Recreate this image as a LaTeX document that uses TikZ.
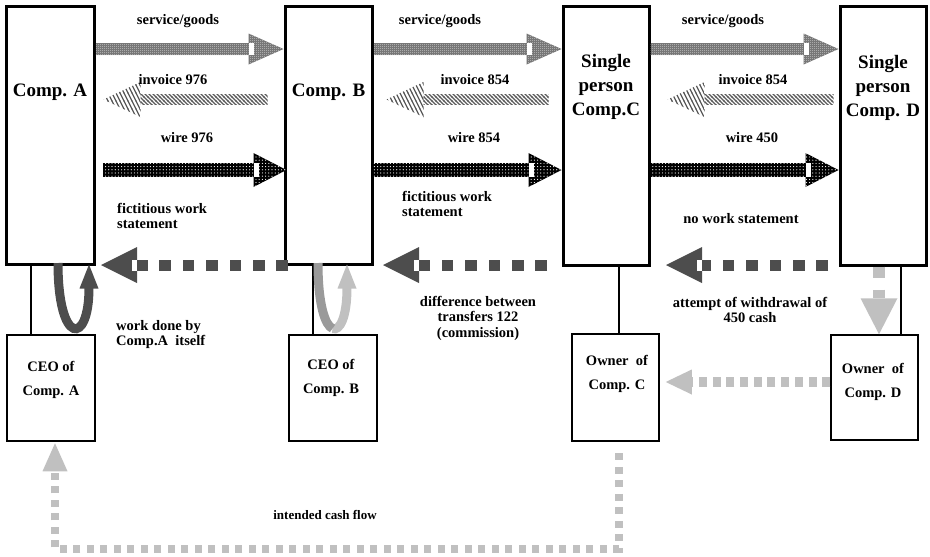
\documentclass[tikz,border=0pt]{standalone}
\usepackage{fontspec}
\setmainfont{Liberation Serif}
\usetikzlibrary{patterns,calc}

% diagonal hatching for the invoice arrows (shaft and steeper head)
\pgfdeclarepatternformonly{invoice hatch}{\pgfqpoint{-1pt}{-1pt}}{\pgfqpoint{5pt}{5pt}}{\pgfqpoint{4pt}{4pt}}{%
  \pgfsetlinewidth{1.3pt}%
  \pgfpathmoveto{\pgfqpoint{-0.3pt}{4.3pt}}%
  \pgfpathlineto{\pgfqpoint{4.3pt}{-0.3pt}}%
  \pgfusepath{stroke}}
\pgfdeclarepatternformonly{invoice hatch steep}{\pgfqpoint{-1pt}{-1pt}}{\pgfqpoint{5pt}{9pt}}{\pgfqpoint{4pt}{8pt}}{%
  \pgfsetlinewidth{1.3pt}%
  \pgfpathmoveto{\pgfqpoint{-0.15pt}{8.3pt}}%
  \pgfpathlineto{\pgfqpoint{4.15pt}{-0.3pt}}%
  \pgfusepath{stroke}}
% white dots on the wire arrows
\pgfdeclarepatternformonly{wire dots}{\pgfqpoint{-1pt}{-1pt}}{\pgfqpoint{1pt}{1pt}}{\pgfqpoint{3.2pt}{3.2pt}}{%
  \pgfpathcircle{\pgfqpoint{0pt}{0pt}}{.6pt}%
  \pgfusepath{fill}}
% fine checker on the goods arrows
\pgfdeclarepatternformonly{goods checker}{\pgfqpoint{0pt}{0pt}}{\pgfqpoint{2pt}{2pt}}{\pgfqpoint{2pt}{2pt}}{%
  \pgfpathrectangle{\pgfqpoint{0pt}{0pt}}{\pgfqpoint{1pt}{1pt}}%
  \pgfpathrectangle{\pgfqpoint{1pt}{1pt}}{\pgfqpoint{1pt}{1pt}}%
  \pgfusepath{fill}}

\definecolor{darkflow}{HTML}{4D4D4D}
\definecolor{lightflow}{HTML}{C0C0C0}
\definecolor{midflow}{HTML}{9A9A9A}

% pieces of a horizontal block arrow going from a tail coordinate to a tip coordinate
\newcommand\arrowshaft[5]{% style, tail, tip, half thickness, head length
  \path[#1] let \p1=(#2), \p2=(#3), \n1={(\x2>\x1)*2-1} in
    (\x1,{\y1+#4pt}) rectangle ({\x2-(\n1)*(#5pt)},{\y1-#4pt});}
\newcommand\arrowdashes[4]{% style, tail, tip, head length
  \path[#1] let \p1=(#2), \p2=(#3), \n1={(\x2>\x1)*2-1} in
    (\x1,\y1) -- ({\x2-(\n1)*(#4pt)},\y1);}
\newcommand\arrowhead[5]{% style, tail, tip, half width, head length
  \path[#1] let \p1=(#2), \p2=(#3), \n1={(\x2>\x1)*2-1} in
    ({\x2-(\n1)*(#5pt)},{\y2+#4pt}) -- (\x2,\y2) -- ({\x2-(\n1)*(#5pt)},{\y2-#4pt}) -- cycle;}
\newcommand\arrownotch[5]{% tail, tip, half height, head length, notch width
  \fill[white] let \p1=(#1), \p2=(#2), \n1={(\x2>\x1)*2-1} in
    ({\x2-(\n1)*(#4pt)},{\y2+#3pt}) rectangle ({\x2-(\n1)*(#4pt-#5pt)},{\y2-#3pt});}
\newcommand\blockarrow[8]{% shaft style, head style, tail, tip, shaft half, head half, head length, notch
  \arrowshaft{#1}{#3}{#4}{#5}{#7}%
  \arrowhead{#2}{#3}{#4}{#6}{#7}%
  \ifdim #8pt>0pt \arrownotch{#3}{#4}{#5}{#7}{#8}\fi}
\newcommand\dasharrow[8]{% dash style, head style, tail, tip, notch half, head half, head length, notch
  \arrowdashes{#1}{#3}{#4}{#7}%
  \arrowhead{#2}{#3}{#4}{#6}{#7}%
  \ifdim #8pt>0pt \arrownotch{#3}{#4}{#5}{#7}{#8}\fi}

\begin{document}
\begin{tikzpicture}[x=1pt,y=-1pt,
  bigbox/.style={draw, line width=3pt, inner sep=0pt},
  smallbox/.style={draw, line width=1.5pt, inner sep=0pt},
  link/.style={line width=1.5pt},
  boxname/.style={font=\fontsize{19}{24}\selectfont\bfseries, align=center, inner sep=0pt},
  personname/.style={font=\fontsize{14.5}{24}\selectfont\bfseries, align=center, inner sep=0pt},
  flowtext/.style={font=\fontsize{14.5}{15.5}\selectfont\bfseries, inner sep=0pt},
  goods/.style={preaction={fill=black!58}, pattern=goods checker, pattern color=black!20},
  money/.style={preaction={fill=black}, pattern=wire dots, pattern color=white},
  invoice/.style={pattern=invoice hatch, pattern color=black!65},
  invoicehead/.style={pattern=invoice hatch steep, pattern color=black!65},
  darkdash/.style={draw=darkflow, line width=11pt, dash pattern=on 11.7pt off 11.7pt},
  darkhead/.style={fill=darkflow},
  lightdash/.style={draw=lightflow, line width=8pt, dash pattern=on 7pt off 6.5pt},
  lighthead/.style={fill=lightflow},
]
\useasboundingbox (0,0) rectangle (930,557);

% companies
\node[bigbox, minimum width=88pt, minimum height=258pt] (A) at (50,135) {};
\node[bigbox, minimum width=87pt, minimum height=258pt] (B) at (328.5,135) {};
\node[bigbox, minimum width=86pt, minimum height=259pt] (C) at (606,135.5) {};
\node[bigbox, minimum width=86pt, minimum height=259pt] (D) at (883,135.5) {};
% persons behind the companies
\node[smallbox, minimum width=88pt, minimum height=106pt] (ceoA) at (51,388) {};
\node[smallbox, minimum width=88pt, minimum height=106pt] (ceoB) at (333,388) {};
\node[smallbox, minimum width=87pt, minimum height=107pt] (ownC) at (615.5,387.5) {};
\node[smallbox, minimum width=87pt, minimum height=105pt] (ownD) at (874.5,387.5) {};

% links company -- person
\coordinate (lnA) at (31,0);
\coordinate (lnB) at (313,0);
\coordinate (lnC) at (619,0);
\coordinate (lnD) at (901,0);
\draw[link] (A.south -| lnA) -- (ceoA.north -| lnA);
\draw[link] (B.south -| lnB) -- (ceoB.north -| lnB);
\draw[link] (C.south -| lnC) -- (ownC.north -| lnC);
\draw[link] (D.south -| lnD) -- (ownD.north -| lnD);

% rows of the flows
\coordinate (rowS) at (0,49);
\coordinate (rowI) at (0,99.5);
\coordinate (rowW) at (0,170);
\coordinate (rowR) at (0,265);
\coordinate (rowO) at (0,382);

% service / goods
\coordinate (gAB0) at (A.east |- rowS); \coordinate (gAB1) at (B.west |- rowS);
\coordinate (gBC0) at (B.east |- rowS); \coordinate (gBC1) at (C.west |- rowS);
\coordinate (gCD0) at (C.east |- rowS); \coordinate (gCD1) at (D.west |- rowS);
\blockarrow{goods}{goods}{gAB0}{gAB1}{6}{15.5}{35}{5}
\blockarrow{goods}{goods}{gBC0}{gBC1}{6}{15.5}{35}{5}
\blockarrow{goods}{goods}{gCD0}{gCD1}{6}{15.5}{35}{5}

% invoices
\coordinate (iAB0) at ($(B.west |- rowI)+(-16,0)$); \coordinate (iAB1) at ($(A.east |- rowI)+(8,0)$);
\coordinate (iBC0) at ($(C.west |- rowI)+(-13,0)$); \coordinate (iBC1) at ($(B.east |- rowI)+(13,0)$);
\coordinate (iCD0) at ($(D.west |- rowI)+(-5,0)$);  \coordinate (iCD1) at ($(C.east |- rowI)+(17,0)$);
\blockarrow{invoice}{invoicehead}{iAB0}{iAB1}{5}{17.5}{37}{0}
\blockarrow{invoice}{invoicehead}{iBC0}{iBC1}{5}{17.5}{37}{0}
\blockarrow{invoice}{invoicehead}{iCD0}{iCD1}{5}{17.5}{37}{0}

% wires
\coordinate (wAB0) at ($(A.east |- rowW)+(7,0)$); \coordinate (wAB1) at ($(B.west |- rowW)+(3,0)$);
\coordinate (wBC0) at (B.east |- rowW); \coordinate (wBC1) at (C.west |- rowW);
\coordinate (wCD0) at (C.east |- rowW); \coordinate (wCD1) at (D.west |- rowW);
\blockarrow{money}{money}{wAB0}{wAB1}{7}{17}{33}{5}
\blockarrow{money}{money}{wBC0}{wBC1}{7}{17}{33}{5}
\blockarrow{money}{money}{wCD0}{wCD1}{7}{17}{33}{5}

% work statements
\coordinate (sBA0) at ($(B.west |- rowR)+(4.5,0)$);   \coordinate (sBA1) at ($(A.east |- rowR)+(5.5,0)$);
\coordinate (sCB0) at ($(C.west |- rowR)+(-14.5,0)$); \coordinate (sCB1) at ($(B.east |- rowR)+(9.5,0)$);
\coordinate (sDC0) at ($(D.west |- rowR)+(-10.5,0)$); \coordinate (sDC1) at ($(C.east |- rowR)+(15.5,0)$);
\dasharrow{darkdash}{darkhead}{sBA0}{sBA1}{5.5}{18}{36}{5}
\dasharrow{darkdash}{darkhead}{sCB0}{sCB1}{5.5}{18}{36}{5}
\dasharrow{darkdash}{darkhead}{sDC0}{sDC1}{5.5}{18}{36}{5}

% cash withdrawn by the owner of D
\coordinate (cx) at (879,0);
\coordinate (cD0) at (D.south -| cx);
\coordinate (cD1) at (ownD.north -| cx);
\path[lightdash, line width=12pt, dash pattern=on 11pt off 12pt] (cD0) -- ($(cD1)+(0,-36)$);
\path[lighthead] let \p1=(cD1) in ({\x1-18.5pt},{\y1+36pt}) -- (\x1,\y1) -- ({\x1+18.5pt},{\y1+36pt}) -- cycle;

% cash handed from D to C
\coordinate (oDC0) at (ownD.west |- rowO); \coordinate (oDC1) at ($(ownC.east |- rowO)+(6,0)$);
\dasharrow{lightdash, line width=10pt, dash pattern=on 8pt off 5.7pt}{lighthead}{oDC0}{oDC1}{0}{12.5}{26}{0}

% intended cash flow back to the CEO of A
\coordinate (lpC) at (619,0);
\coordinate (lpA) at (55,0);
\coordinate (lpBottom) at (0,549);
\coordinate (lpTip) at ($(ceoA.south -| lpA)+(0,1.5)$);
\path[lightdash] ($(ownC.south -| lpC)+(0,11.5)$) -- (lpC |- lpBottom) -- (lpA |- lpBottom) -- ($(lpTip)+(0,28)$);
\path[lighthead] let \p1=(lpTip) in ({\x1-12.5pt},{\y1-28pt}) -- (\x1,\y1) -- ({\x1+12.5pt},{\y1-28pt}) -- cycle;

% work done by company A itself
\coordinate (uA0) at (58,263);
\coordinate (uA1) at (89,288);
\coordinate (uAt) at (89,264.5);
\draw[darkflow, line width=9pt] (uA0) .. controls (58,346) and (89,346) .. (uA1);
\path[darkhead] let \p1=(uAt) in ({\x1-9.5pt},{\y1-24pt}) -- (\x1,\y1) -- ({\x1+9.5pt},{\y1-24pt}) -- cycle;

% commission kept inside company B
\coordinate (uB0) at (318,263);
\coordinate (uBm) at (332.5,328.5);
\coordinate (uB1) at (347,288);
\coordinate (uBt) at (347,264.5);
\draw[lightflow, line width=9pt] (uBm) .. controls (339.75,331.5) and (347,317) .. (uB1);
\draw[midflow, line width=9pt] (uB0) .. controls (318,305) and (325.25,325.5) .. (uBm);
\path[lighthead] let \p1=(uBt) in ({\x1-9.5pt},{\y1-24pt}) -- (\x1,\y1) -- ({\x1+9.5pt},{\y1-24pt}) -- cycle;

% names
\node[boxname] (tA) at (50,92) {Comp. A};
\node[boxname] (tB) at (328.5,92) {Comp. B};
\node[boxname] (tC) at (606,87) {Single\\person\\Comp.C};
\node[boxname] (tD) at (883,88) {Single\\person\\Comp. D};
\node[personname] (tceoA) at (51,380) {CEO of\\Comp. A};
\node[personname] (tceoB) at (331,378) {CEO of\\Comp. B};
\node[personname] (townC) at (617,374) {Owner~ of\\Comp. C};
\node[personname] (townD) at (873,382) {Owner~ of\\Comp. D};

% flow labels
\node[flowtext] (lsAB) at (178,21) {service/goods};
\node[flowtext] (lsBC) at (440,21) {service/goods};
\node[flowtext] (lsCD) at (723,21) {service/goods};
\node[flowtext] (liAB) at (173,80) {invoice 976};
\node[flowtext] (liBC) at (475,80) {invoice 854};
\node[flowtext] (liCD) at (753,80) {invoice 854};
\node[flowtext] (lwAB) at (187,138) {wire 976};
\node[flowtext] (lwBC) at (474,138) {wire 854};
\node[flowtext] (lwCD) at (752,138) {wire 450};
\node[flowtext, align=left, anchor=west] (lfA) at (117,216) {fictitious work\\statement};
\node[flowtext, align=left, anchor=west] (lfB) at (402,204) {fictitious work\\statement};
\node[flowtext] (lnw) at (741,219) {no work statement};
\node[flowtext, align=left, anchor=west] (lwd) at (116,334.5) {work done by\\Comp.A~ itself};
\node[flowtext, align=center] (ldiff) at (478,318) {difference between\\transfers 122\\(commission)};
\node[flowtext, align=center] (latt) at (750,310) {attempt of withdrawal of\\450 cash};
\node[font=\fontsize{13}{15}\selectfont\bfseries, inner sep=0pt] (lint) at (325,515) {intended cash flow};
\end{tikzpicture}
\end{document}
